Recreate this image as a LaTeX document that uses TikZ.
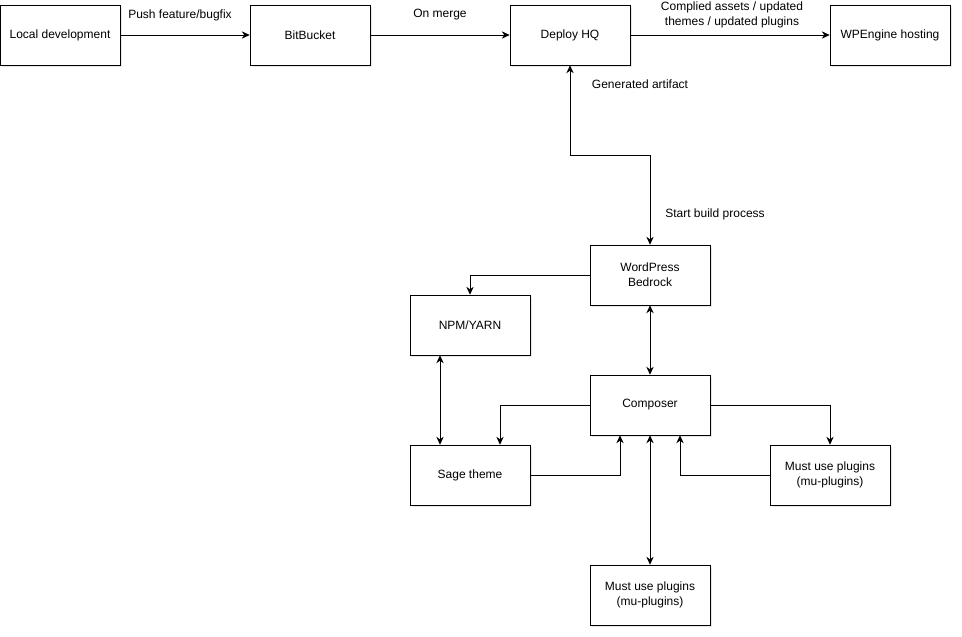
\documentclass[tikz,border=0pt]{standalone}
\usepackage{fontspec}
\setmainfont{Liberation Sans}
\usetikzlibrary{arrows.meta, positioning, calc, shadows}

\begin{document}
\begin{tikzpicture}[
    x=0.75pt, y=-0.75pt,
    box/.style={draw, fill=white, minimum width=90pt, minimum height=45pt,
                align=center, font=\fontsize{9}{11}\selectfont,
                drop shadow={opacity=0.18, shadow xshift=1.2pt, shadow yshift=-1.2pt}},
    lbl/.style={font=\fontsize{9}{11}\selectfont, align=center},
    arr/.style={-{Stealth[length=6pt, width=5.5pt]}, line width=0.75pt},
    dbl/.style={{Stealth[length=6pt, width=5.5pt]}-{Stealth[length=6pt, width=5.5pt]}, line width=0.75pt}
  ]
    \useasboundingbox (0,0) rectangle (962,636);

    % top row
    \node[box] (local) at (60,35) {Local development};
    \node[box] (bitbucket) at (310,35) {BitBucket};
    \node[box] (deploy) at (570,35) {Deploy HQ};
    \node[box] (wpengine) at (890,35) {WPEngine hosting};

    % build
    \node[box] (wp) at (650,275) {WordPress\\Bedrock};
    \node[box] (npm) at (470,325) {NPM/YARN};
    \node[box] (comp) at (650,405) {Composer};
    \node[box] (sage) at (470,475) {Sage theme};
    \node[box] (muright) at (830,475) {Must use plugins\\(mu-plugins)};
    \node[box] (mubottom) at (650,595) {Must use plugins\\(mu-plugins)};

    \draw[arr] (local) -- (bitbucket);
    \draw[arr] (bitbucket) -- (deploy);
    \draw[arr] (deploy) -- (wpengine);
    \node[lbl] (lpush) at (180,15) {Push feature/bugfix};
    \node[lbl] (lmerge) at (440,15) {On merge};
    \node[lbl] (lassets) at (732,15) {Complied assets / updated\\themes / updated plugins};

    \draw[dbl] (deploy.south) -- ++(0,90) -| (wp.north);
    \node[lbl] (lartifact) at (640,84) {Generated artifact};
    \node[lbl] (lbuild) at (715,214) {Start build process};

    \draw[arr] (wp.west) -| (npm.north);
    \draw[dbl] (wp.south) -- (comp.north);
    \draw[dbl] ($(npm.south)+(-30,0)$) -- ($(sage.north)+(-30,0)$);
    \draw[arr] (comp.west) -| ($(sage.north)+(30,0)$);
    \draw[arr] (sage.east) -| ($(comp.south)+(-30,0)$);
    \draw[arr] (comp.east) -| (muright.north);
    \draw[arr] (muright.west) -| ($(comp.south)+(30,0)$);
    \draw[dbl] (comp.south) -- (mubottom.north);
  \end{tikzpicture}
\end{document}
